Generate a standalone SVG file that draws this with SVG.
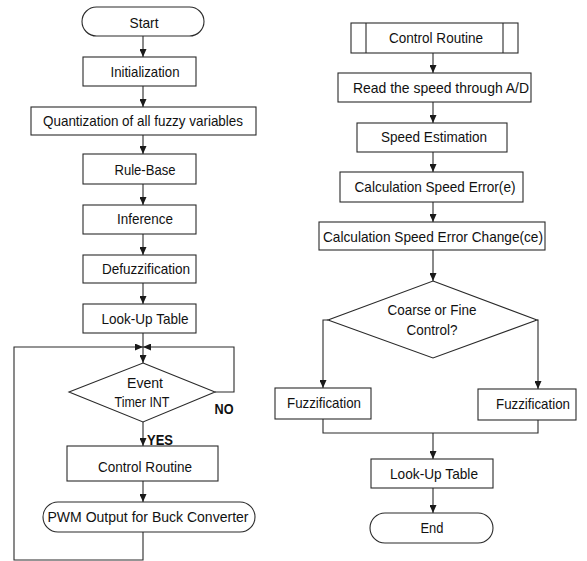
<svg xmlns="http://www.w3.org/2000/svg" width="587" height="561" viewBox="0 0 587 561">
  <style>
    .box { fill: #ffffff; stroke: #2a2a2a; stroke-width: 1.1; }
    .ln { fill: none; stroke: #2a2a2a; stroke-width: 1.1; }
    .t { font-family: "Liberation Sans", Arial, sans-serif; font-size: 15px; fill: #111; text-anchor: middle; }
    .b { font-family: "Liberation Sans", Arial, sans-serif; font-size: 15px; font-weight: bold; fill: #111; text-anchor: middle; }
  </style>
  <defs>
    <marker id="arr" viewBox="0 0 8 7" refX="8" refY="3.5" markerWidth="8" markerHeight="7" markerUnits="userSpaceOnUse" orient="auto">
      <path d="M0,0 L8,3.5 L0,7 z" fill="#1a1a1a"/>
    </marker>
  </defs>
  <rect width="587" height="561" fill="#ffffff"/>

  <!-- connectors -->
  <g id="connectors">
    <!-- main program -->
    <line class="ln" x1="143" y1="36" x2="143" y2="57" marker-end="url(#arr)"/>
    <line class="ln" x1="143" y1="86" x2="143" y2="107" marker-end="url(#arr)"/>
    <line class="ln" x1="143" y1="135" x2="143" y2="154" marker-end="url(#arr)"/>
    <line class="ln" x1="143" y1="184" x2="143" y2="205" marker-end="url(#arr)"/>
    <line class="ln" x1="143" y1="234" x2="143" y2="255" marker-end="url(#arr)"/>
    <line class="ln" x1="143" y1="283" x2="143" y2="304" marker-end="url(#arr)"/>
    <line class="ln" x1="143" y1="333" x2="143" y2="347"/>
    <!-- loop back from PWM output -->
    <polyline class="ln" points="143,532 143,560 14,560 14,347 143,347" marker-end="url(#arr)"/>
    <!-- NO branch back to the junction -->
    <polyline class="ln" points="215,392 234,392 234,347 143,347" marker-end="url(#arr)"/>
    <line class="ln" x1="143" y1="347" x2="143" y2="363" marker-end="url(#arr)"/>
    <!-- YES branch -->
    <line class="ln" x1="143" y1="422" x2="143" y2="446" marker-end="url(#arr)"/>
    <line class="ln" x1="143" y1="481" x2="143" y2="502" marker-end="url(#arr)"/>

    <!-- control routine -->
    <line class="ln" x1="433" y1="53" x2="433" y2="73" marker-end="url(#arr)"/>
    <line class="ln" x1="433" y1="102" x2="433" y2="123" marker-end="url(#arr)"/>
    <line class="ln" x1="433" y1="152" x2="433" y2="172" marker-end="url(#arr)"/>
    <line class="ln" x1="433" y1="202" x2="433" y2="222" marker-end="url(#arr)"/>
    <line class="ln" x1="433" y1="250" x2="433" y2="281" marker-end="url(#arr)"/>
    <polyline class="ln" points="328,320 323,320 323,388" marker-end="url(#arr)"/>
    <polyline class="ln" points="537,320 538,320 538,389" marker-end="url(#arr)"/>
    <polyline class="ln" points="323,419 323,433 538,433 538,420"/>
    <line class="ln" x1="433" y1="433" x2="433" y2="459" marker-end="url(#arr)"/>
    <line class="ln" x1="433" y1="488" x2="433" y2="513" marker-end="url(#arr)"/>
  </g>

  <!-- main program nodes -->
  <g id="start">
    <rect class="box" x="82" y="7" width="122" height="29" rx="14.5"/>
    <text class="t" x="144" y="28" textLength="29" lengthAdjust="spacingAndGlyphs">Start</text>
  </g>
  <g id="init">
    <rect class="box" x="83" y="57" width="113" height="29"/>
    <text class="t" x="145" y="77" textLength="69" lengthAdjust="spacingAndGlyphs">Initialization</text>
  </g>
  <g id="quantization">
    <rect class="box" x="31" y="107" width="225" height="28"/>
    <text class="t" x="143" y="126" textLength="200" lengthAdjust="spacingAndGlyphs">Quantization of all fuzzy variables</text>
  </g>
  <g id="rule-base">
    <rect class="box" x="83" y="154" width="113" height="30"/>
    <text class="t" x="145" y="175" textLength="61" lengthAdjust="spacingAndGlyphs">Rule-Base</text>
  </g>
  <g id="inference">
    <rect class="box" x="83" y="205" width="113" height="29"/>
    <text class="t" x="145" y="224" textLength="56" lengthAdjust="spacingAndGlyphs">Inference</text>
  </g>
  <g id="defuzzification">
    <rect class="box" x="83" y="255" width="113" height="28"/>
    <text class="t" x="146" y="274" textLength="88" lengthAdjust="spacingAndGlyphs">Defuzzification</text>
  </g>
  <g id="lookup-left">
    <rect class="box" x="83" y="304" width="113" height="29"/>
    <text class="t" x="145" y="324" textLength="87" lengthAdjust="spacingAndGlyphs">Look-Up Table</text>
  </g>
  <g id="event">
    <polygon class="box" points="143,363 215,392 143,422 69,392"/>
    <text class="t" x="145" y="388" textLength="36" lengthAdjust="spacingAndGlyphs">Event</text>
    <text class="t" x="142" y="407" textLength="55" lengthAdjust="spacingAndGlyphs">Timer INT</text>
  </g>
  <text class="b" x="224" y="414" textLength="19" lengthAdjust="spacingAndGlyphs">NO</text>
  <text class="b" x="160" y="445" textLength="26" lengthAdjust="spacingAndGlyphs">YES</text>
  <g id="control-call">
    <rect class="box" x="67" y="446" width="151" height="35"/>
    <text class="t" x="145" y="472" textLength="94" lengthAdjust="spacingAndGlyphs">Control Routine</text>
  </g>
  <g id="pwm">
    <rect class="box" x="43" y="502" width="212" height="30" rx="15"/>
    <text class="t" x="148" y="522" textLength="201" lengthAdjust="spacingAndGlyphs">PWM Output for Buck Converter</text>
  </g>

  <!-- control routine nodes -->
  <g id="routine">
    <rect class="box" x="351" y="23" width="167" height="30"/>
    <line class="ln" x1="366" y1="23" x2="366" y2="53"/>
    <line class="ln" x1="503" y1="23" x2="503" y2="53"/>
    <text class="t" x="436" y="43" textLength="94" lengthAdjust="spacingAndGlyphs">Control Routine</text>
  </g>
  <g id="read-speed">
    <rect class="box" x="338" y="73" width="193" height="29"/>
    <text class="t" x="441" y="93" textLength="176" lengthAdjust="spacingAndGlyphs">Read the speed through A/D</text>
  </g>
  <g id="speed-est">
    <rect class="box" x="357" y="123" width="150" height="29"/>
    <text class="t" x="434" y="142" textLength="106" lengthAdjust="spacingAndGlyphs">Speed Estimation</text>
  </g>
  <g id="calc-error">
    <rect class="box" x="340" y="172" width="183" height="30"/>
    <text class="t" x="435" y="192" textLength="161" lengthAdjust="spacingAndGlyphs">Calculation Speed Error(e)</text>
  </g>
  <g id="calc-change">
    <rect class="box" x="319" y="222" width="226" height="28"/>
    <text class="t" x="433" y="242" textLength="220" lengthAdjust="spacingAndGlyphs">Calculation Speed Error Change(ce)</text>
  </g>
  <g id="coarse-fine">
    <polygon class="box" points="433,281 537,320 433,358 328,320"/>
    <text class="t" x="432" y="315" textLength="89" lengthAdjust="spacingAndGlyphs">Coarse or Fine</text>
    <text class="t" x="432" y="335" textLength="51" lengthAdjust="spacingAndGlyphs">Control?</text>
  </g>
  <g id="fuzz-left">
    <rect class="box" x="275" y="388" width="96" height="31"/>
    <text class="t" x="324" y="408" textLength="74" lengthAdjust="spacingAndGlyphs">Fuzzification</text>
  </g>
  <g id="fuzz-right">
    <rect class="box" x="478" y="389" width="98" height="31"/>
    <text class="t" x="533" y="409" textLength="74" lengthAdjust="spacingAndGlyphs">Fuzzification</text>
  </g>
  <g id="lookup-right">
    <rect class="box" x="371" y="459" width="122" height="29"/>
    <text class="t" x="434" y="479" textLength="88" lengthAdjust="spacingAndGlyphs">Look-Up Table</text>
  </g>
  <g id="end">
    <rect class="box" x="370" y="513" width="123" height="30" rx="15"/>
    <text class="t" x="432" y="533" textLength="23" lengthAdjust="spacingAndGlyphs">End</text>
  </g>
</svg>
